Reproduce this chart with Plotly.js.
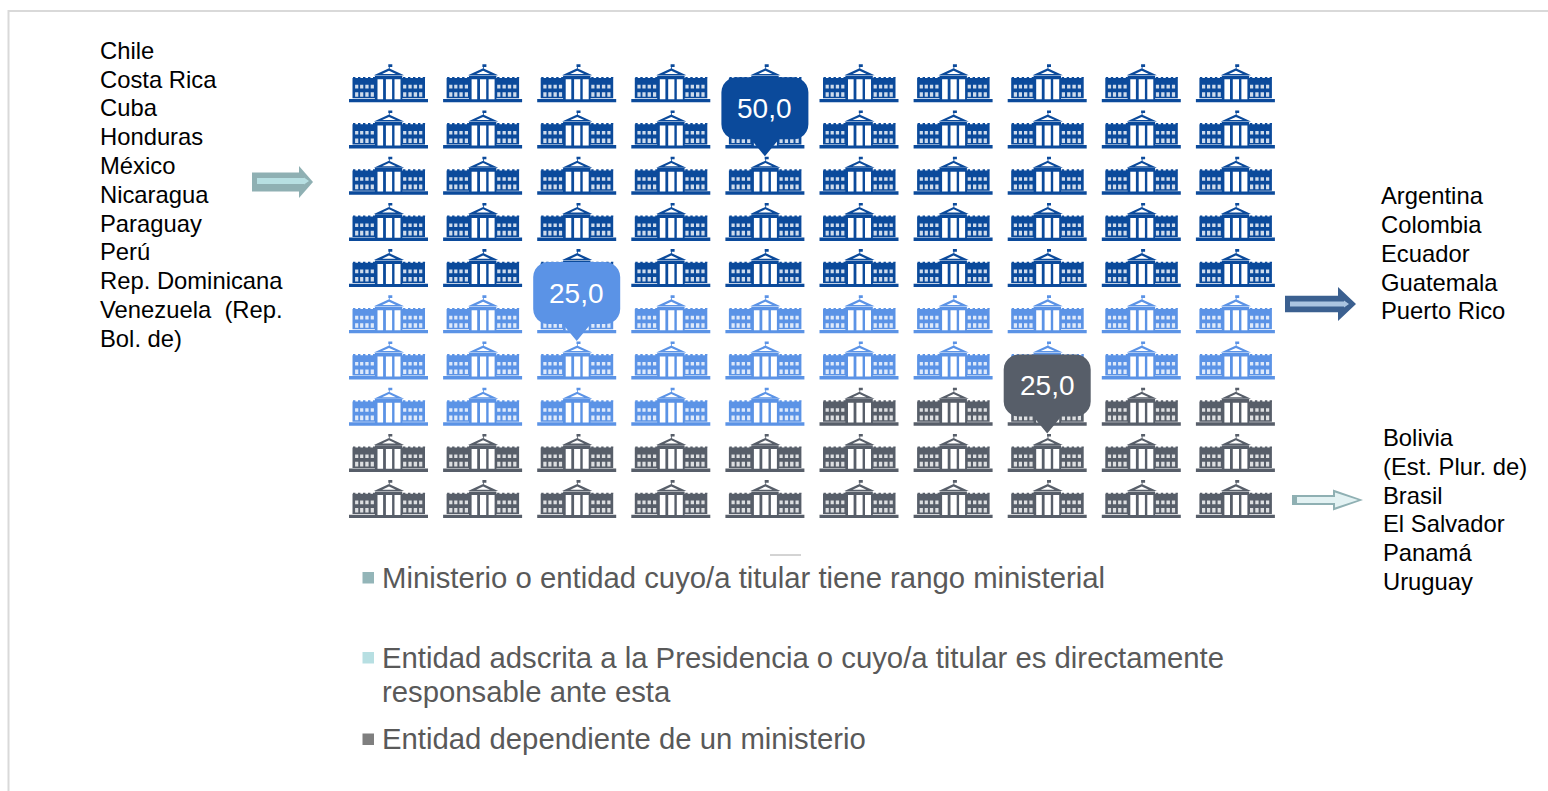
<!DOCTYPE html>
<html><head><meta charset="utf-8">
<script src="https://cdn.plot.ly/plotly-3.0.1.min.js"></script>
<style>html,body{margin:0;padding:0;background:#fff;overflow:hidden}#c{width:1548px;height:791px}</style>
</head><body><div id="c"></div>
<script>
// ---------- data ----------
const categories = ["Ministerio o entidad cuyo/a titular tiene rango ministerial",
                    "Entidad adscrita a la Presidencia o cuyo/a titular es directamente responsable ante esta",
                    "Entidad dependiente de un ministerio"];
const shares = [50, 25, 25];
const iconColors = ["#0B4A9B", "#5B93E6", "#575E69"];
const calloutCols = [5, 3, 8];
const calloutRows = [3, 7, 9];
const listA = ["Chile","Costa Rica","Cuba","Honduras","México","Nicaragua","Paraguay","Perú","Rep. Dominicana","Venezuela  (Rep.","Bol. de)"];
const listB = ["Argentina","Colombia","Ecuador","Guatemala","Puerto Rico"];
const listC = ["Bolivia","(Est. Plur. de)","Brasil","El Salvador","Panamá","Uruguay"];

// ---------- page geometry ----------
const W = 1548, H = 791, GRID = 10;
const X0 = 388.5, DX = 94.1, Y0 = 83.3, DY = 46.2;
const xRange = [1 + (0 - X0) / DX, 1 + (W - X0) / DX];
const yRange = [1 + (H - Y0) / DY, 1 + (0 - Y0) / DY];
const px = x => x / W, py = y => 1 - y / H;

// ---------- pictogram template, in pixels around each cell centre ----------
const rect = (a, b, c, d) => [[a, b], [c, b], [c, d], [a, d]];
const iconSolid = [
  rect(-39.5, 15.6, 39.5, 19),
  rect(-36, -5.3, -13.5, 15), rect(13.5, -5.3, 36.5, 15),
  rect(-13.6, -7.6, 13.8, 15.8),
  [[0.5, -15], [15.6, -8], [-14.6, -8]],
  rect(-0.2, -19, 3.8, -16.4), rect(0.4, -19, 1.2, -14.5)
];
[-35.5, -30.5, -25.5, -20.5, -15.5, 14.5, 19.5, 24.5, 29.5, 34.2].forEach(x => iconSolid.push(rect(x, -6.4, x + 2.4, -5)));
const iconGaps = [
  rect(-11, -4, -5.4, 15.9), rect(-2.6, -4, 3.6, 15.9), rect(6, -4, 12, 15.9),
  [[0.5, -12.6], [7.4, -9.4], [-6.4, -9.4]]
];
const iconWindows = [];
[[-33.4, -30.2], [-28.4, -25.2], [-23.2, -19.9], [-17.8, -14.6],
 [14.6, 17.8], [19.9, 23.2], [25.2, 28.6], [30.6, 33.8]].forEach(w => {
  iconWindows.push(rect(w[0], 1.5, w[1], 5.1));
  iconWindows.push(rect(w[0], 8.9, w[1], 13.5));
});

function place(polys, col, row, xs, ys) {
  polys.forEach(p => {
    p.forEach(q => { xs.push(col + q[0] / DX); ys.push(row + q[1] / DY); });
    xs.push(col + p[0][0] / DX); ys.push(row + p[0][1] / DY);
    xs.push(null); ys.push(null);
  });
}
const shapeTrace = (xs, ys, color, name) => ({
  type: "scatter", mode: "lines", x: xs, y: ys, fill: "toself", fillcolor: color,
  line: { width: 0, color: color, simplify: false }, hoverinfo: "skip", name: name, showlegend: false
});

const traces = [];
const gapX = [], gapY = [], winX = [], winY = [];
let cell = 0;
shares.forEach((count, k) => {
  const xs = [], ys = [];
  for (let n = 0; n < count; n++, cell++) {
    const row = Math.floor(cell / GRID) + 1, col = cell % GRID + 1;
    place(iconSolid, col, row, xs, ys);
    place(iconGaps, col, row, gapX, gapY);
    place(iconWindows, col, row, winX, winY);
  }
  traces.push(shapeTrace(xs, ys, iconColors[k], categories[k]));
});
traces.push(shapeTrace(gapX, gapY, "#ffffff", "columnas"));
traces.push(shapeTrace(winX, winY, "rgba(255,255,255,0.8)", "ventanas"));

// ---------- callouts ----------
function calloutPoly() {
  const L = -43.5, R = 43.5, T = -98.4, B = -36.4, r = 15, pts = [];
  const arc = (cx, cy, a0) => { for (let i = 0; i <= 6; i++) { const a = (a0 + i * 15) * Math.PI / 180; pts.push([cx + r * Math.cos(a), cy + r * Math.sin(a)]); } };
  arc(L + r, T + r, 180); arc(R - r, T + r, 270); arc(R - r, B - r, 0);
  pts.push([14, B], [0, -19.4], [-14, B]);
  arc(L + r, B - r, 90);
  return pts;
}
const annotations = [];
shares.forEach((v, k) => {
  const xs = [], ys = [];
  place([calloutPoly()], calloutCols[k], calloutRows[k], xs, ys);
  traces.push(shapeTrace(xs, ys, iconColors[k], "etiqueta " + k));
  annotations.push({
    xref: "x", yref: "y", x: calloutCols[k], y: calloutRows[k] - 67.4 / DY,
    text: v.toFixed(1).replace(".", ","), showarrow: false, xanchor: "center", yanchor: "middle",
    font: { family: "Liberation Sans", size: 28, color: "#ffffff" }
  });
});

// ---------- text ----------
function textLine(t, x, y, size, color) {
  annotations.push({ xref: "paper", yref: "paper", x: px(x), y: py(y), text: t, showarrow: false,
    xanchor: "left", yanchor: "middle", align: "left", borderpad: 0,
    font: { family: "Liberation Sans", size: size, color: color } });
}
listA.forEach((t, i) => textLine(t, 98.7, 50.3 + i * 28.8, 23.8, "#000000"));
listB.forEach((t, i) => textLine(t, 1379.8, 195.6 + i * 28.8, 23.8, "#000000"));
listC.forEach((t, i) => textLine(t, 1382, 437.4 + i * 28.8, 23.8, "#000000"));
const LEG = "#595959";
textLine("Ministerio o entidad cuyo/a titular tiene rango ministerial", 381, 577.3, 29.3, LEG);
textLine("Entidad adscrita a la Presidencia o cuyo/a titular es directamente", 381, 657.3, 29.3, LEG);
textLine("responsable ante esta", 381, 691.3, 29.3, LEG);
textLine("Entidad dependiente de un ministerio", 381, 738.3, 29.3, LEG);

// ---------- decorations in page space ----------
const shapes = [];
const poly = (pts, color) => shapes.push({ type: "path", xref: "paper", yref: "paper", layer: "above",
  path: "M" + pts.map(p => px(p[0]) + "," + py(p[1])).join("L") + "Z", fillcolor: color, line: { width: 0 } });
const ln = (a, b, c, d, color, w) => shapes.push({ type: "line", xref: "paper", yref: "paper", x0: px(a), y0: py(b), x1: px(c), y1: py(d), line: { color: color, width: w } });
ln(8.5, 11, W, 11, "#d9d9d9", 2);
ln(8.5, 10, 8.5, H, "#d9d9d9", 2);
ln(770, 555, 801, 555, "#a8a8a8", 1);
const sq = (x, y, c) => poly([[x, y], [x + 11.5, y], [x + 11.5, y + 11.5], [x, y + 11.5]], c);
sq(362.5, 572, "#93B5B8"); sq(362.5, 652, "#B7DFE2"); sq(362.5, 733.5, "#7F7F7F");

function arrow(x0, neck, tip, cy, bodyH, headH, color) {
  poly([[x0, cy - bodyH / 2], [neck, cy - bodyH / 2], [neck, cy - headH / 2], [tip, cy], [neck, cy + headH / 2], [neck, cy + bodyH / 2], [x0, cy + bodyH / 2]], color);
}
arrow(252, 299, 313, 182, 19, 32, "#8FB0B3");
arrow(257, 304, 309, 181, 6, 7, "#B7DFE2");
arrow(1285, 1338, 1356, 304, 16.5, 34, "#3B6090");
arrow(1290, 1344, 1349, 304, 5, 7, "#AAC4E0");
arrow(1292, 1333, 1363, 500, 10, 21, "#8FB0B3");
arrow(1297, 1335, 1358, 500, 6, 15, "#E3F2F3");

Plotly.newPlot("c", traces, {
  width: W, height: H, margin: { l: 0, r: 0, t: 0, b: 0 },
  paper_bgcolor: "#ffffff", plot_bgcolor: "#ffffff", showlegend: false,
  xaxis: { range: xRange, visible: false, fixedrange: true },
  yaxis: { range: yRange, visible: false, fixedrange: true },
  annotations: annotations, shapes: shapes
}, { displayModeBar: false, staticPlot: true });
</script></body></html>
